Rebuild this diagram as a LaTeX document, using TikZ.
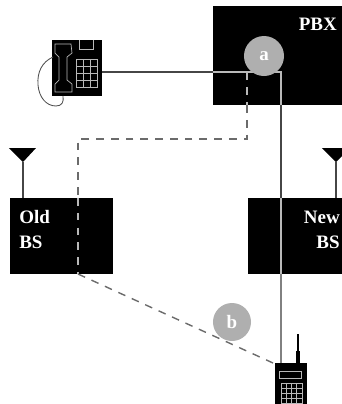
\documentclass[tikz,border=0pt]{standalone}
\usepackage{fontspec}
\setmainfont{Liberation Serif}
\usepackage{xcolor}
\definecolor{wireout}{RGB}{70,70,70}
\definecolor{wirein}{RGB}{185,185,185}
\definecolor{badge}{RGB}{175,175,175}
\usetikzlibrary{positioning, calc}

\begin{document}
\begin{tikzpicture}[
        x=0.025cm, y=-0.025cm,
        box/.style={rectangle, fill=black, inner sep=0pt, outer sep=0pt, minimum width=#1, minimum height=1.9cm},
        boxtext/.style={inner sep=0pt, text=white, font=\fontsize{13.5}{17.7}\selectfont\bfseries},
        badgenode/.style={circle, fill=badge, inner sep=0pt, minimum size=1cm, text=white, font=\fontsize{13.5}{16}\selectfont\bfseries},
        wire/.style={draw=wireout, line width=0.8pt},
        wirelight/.style={draw=wirein, line width=0.9pt},
        dashwire/.style={draw=wireout!80, line width=1pt, dash pattern=on 5.5pt off 5pt},
        dashlight/.style={draw=wirein, line width=1pt, dash pattern=on 5.5pt off 5pt},
        fine/.style={draw=wirein, line width=0.5pt},
        cord/.style={draw=black!70, line width=0.6pt}
    ]
        \clip (0,0) rectangle (342,404);

        % exchange and base stations
        \node[box=3.725cm, minimum height=2.475cm] (pbx) at (287.5,55.5) {};
        \node[box=2.575cm] (oldbs) at (61.5,236) {};
        \node[box=2.85cm] (newbs) at (305,236) {};
        \node[boxtext, anchor=east] (pbxtext) at (337,24) {PBX};
        \node[boxtext, align=left, anchor=west] (oldtext) at (19,229.5) {Old\\BS};
        \node[boxtext, align=right, anchor=east] (newtext) at (340,229.5) {New\\BS};

        % antennas
        \coordinate (oldtip) at (23,162);
        \coordinate (newtip) at (336,162);
        \fill (9,148) -- (36,148) -- (oldtip) -- cycle;
        \fill (322,148) -- (350,148) -- (newtip) -- cycle;
        \draw[wire] (oldtip) -- (oldtip |- oldbs.north);
        \draw[wire] (newtip) -- (newtip |- newbs.north);

        % desk phone
        \node[rectangle, fill=black, inner sep=0pt, outer sep=0pt, minimum width=1.25cm, minimum height=1.4cm] (phone) at (77,68) {};
        \draw[fine] (79,40) -- (79,49) -- (93,49) -- (93,40);
        \draw[fine] (55,44) -- (71,44) -- (72,53) -- (67,57) -- (67,80) -- (72,84) -- (72,92) -- (55,92) -- (55,84) -- (59,80) -- (59,57) -- (55,53) -- cycle;
        \draw[fine] (76,59) rectangle (97,87);
        \foreach \col in {83,90} \draw[fine] (\col,59) -- (\col,87);
        \foreach \row in {66,73,80} \draw[fine] (76,\row) -- (97,\row);
        \draw[cord] (53,57) .. controls (42,62) and (37,72) .. (38,85) .. controls (39,97) and (46,106) .. (56,106) .. controls (62,106) and (64,102) .. (63,96);

        % handset
        \node[rectangle, fill=black, inner sep=0pt, outer sep=0pt, minimum width=0.8cm, minimum height=1.1cm] (radio) at (291,385.5) {};
        \draw[line width=2.4pt] (298,367) -- (298,351);
        \draw[line width=1.6pt] (298,351) -- (298,334);
        \draw[fine] (279,371) rectangle (301,378);
        \draw[fine] (281,383) rectangle (302,403);
        \foreach \col in {286.25,291.5,296.75} \draw[fine] (\col,383) -- (\col,403);
        \foreach \row in {388,393,398} \draw[fine] (281,\row) -- (302,\row);

        % solid path
        \coordinate (pbxwest) at (pbx.west |- 0,72);
        \coordinate (turn) at (281,72);
        \coordinate (pbxsouth) at (turn |- pbx.south);
        \coordinate (newtop) at (turn |- newbs.north);
        \coordinate (newbottom) at (turn |- newbs.south);
        \coordinate (radiotop) at (turn |- radio.north);
        \draw[wire] (phone.east |- pbxwest) -- (pbxwest);
        \draw[wirelight] (pbxwest) -- (turn) -- (pbxsouth);
        \draw[wire] (pbxsouth) -- (newtop);
        \draw[wirelight] (newtop) -- (newbottom);
        \draw[draw=wirein!70!black, line width=0.9pt] (newbottom) -- (radiotop);

        % dashed path
        \coordinate (branch) at (247,72);
        \coordinate (pbxdash) at (branch |- pbx.south);
        \coordinate (bend) at (247,139);
        \coordinate (corner) at (78,139);
        \coordinate (oldtop) at (corner |- oldbs.north);
        \coordinate (oldbottom) at (corner |- oldbs.south);
        \coordinate (radioend) at (273,363);
        \draw[dashlight] (branch) -- (pbxdash);
        \draw[dashwire] (pbxdash) -- (bend) -- (corner) -- (oldtop);
        \draw[dashlight] (oldtop) -- (oldbottom);
        \draw[dashwire] (oldbottom) -- (radioend);

        \node[badgenode] (a) at (264,56) {a};
        \node[badgenode, minimum size=0.95cm] (b) at (232,322) {b};
    \end{tikzpicture}
\end{document}
